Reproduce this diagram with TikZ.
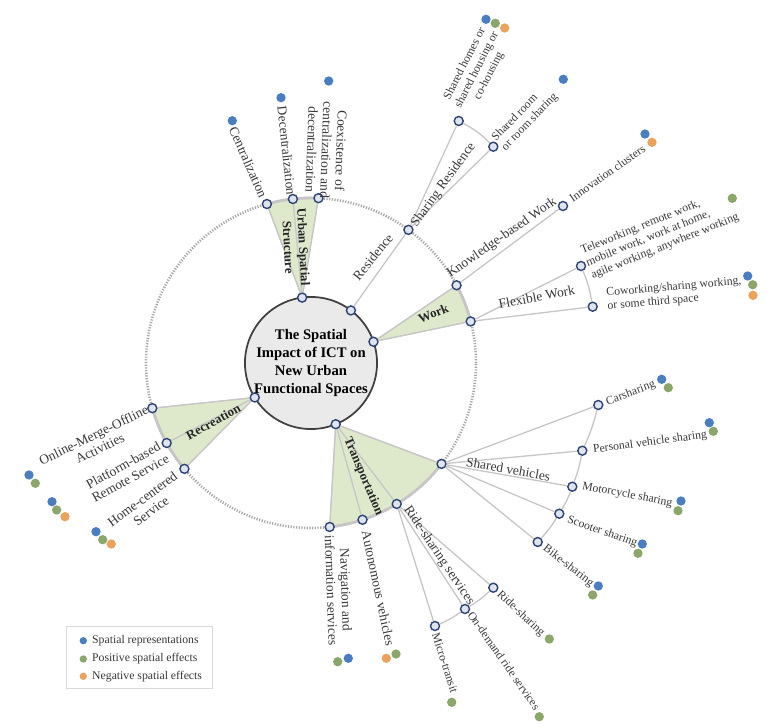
\documentclass[tikz,border=0pt]{standalone}
\usepackage{fontspec}
\setmainfont{Liberation Serif}

\definecolor{ringblue}{RGB}{45,68,115}
\definecolor{ringfill}{RGB}{222,229,240}
\definecolor{linkgray}{RGB}{198,198,198}
\definecolor{dotgray}{RGB}{165,165,165}
\definecolor{wedgegreen}{RGB}{222,233,204}
\definecolor{coregray}{RGB}{234,234,234}
\definecolor{repblue}{RGB}{74,126,193}
\definecolor{posgreen}{RGB}{139,166,106}
\definecolor{neggold}{RGB}{234,162,92}
\definecolor{labelgray}{RGB}{55,55,55}

\tikzset{
  ring/.style={circle, draw=ringblue, line width=1.2pt, fill=ringfill, inner sep=0pt, minimum size=0.27cm},
  link/.style={draw=linkgray, line width=1.1pt},
  rim/.style={draw=linkgray, line width=2.4pt},
  wedge/.style={fill=wedgegreen, draw=linkgray, line width=0.8pt},
  core/.style={circle, draw=black!75, line width=1.5pt, fill=coregray, minimum size=3.96cm, inner sep=0pt, align=center, font=\bfseries\fontsize{12.5}{15.4}\selectfont},
  topic/.style={align=center, text=black!85, inner sep=0pt, font=\bfseries\fontsize{11}{13}\selectfont},
  branch/.style={align=center, text=labelgray, inner sep=0pt, font=\fontsize{11.5}{12.5}\selectfont},
  leaf/.style={align=center, text=labelgray, inner sep=0pt, font=\fontsize{10}{11.5}\selectfont},
  effect/.style={circle, inner sep=0pt, minimum size=0.28cm},
}

\begin{document}
\begin{tikzpicture}[x=0.03cm, y=0.03cm]
    \useasboundingbox (-311,-363) rectangle (473,363);

    % the dotted ring of the second level
    \draw[dotgray, line width=2.2pt, dash pattern=on 1pt off 1.3pt] (0,0) circle (165);

    % the green fans of the main topics
    \filldraw[wedge] (97.7:66) -- (105.5:165) arc[start angle=105.5, end angle=87.4, radius=165] -- cycle;
    \filldraw[wedge] (18.8:66) -- (28.1:165) arc[start angle=28.1, end angle=14.6, radius=165] -- cycle;
    \filldraw[wedge] (-68:66) -- (-37.7:165) arc[start angle=-37.7, end angle=-83.5, radius=165] -- cycle;
    \filldraw[wedge] (211.5:66) -- (195.9:165) arc[start angle=195.9, end angle=219.9, radius=165] -- cycle;
    \draw[rim] (105.5:165) arc[start angle=105.5, end angle=87.4, radius=165];
    \draw[rim] (28.1:165) arc[start angle=28.1, end angle=14.6, radius=165];
    \draw[rim] (-37.7:165) arc[start angle=-37.7, end angle=-83.5, radius=165];
    \draw[rim] (195.9:165) arc[start angle=195.9, end angle=219.9, radius=165];

    % the centre
    \node[core] (core) at (0,0) {The Spatial\\Impact of ICT on\\New Urban\\Functional Spaces};

    % first level: the hubs on the centre
    \node[ring] (hubUrban) at (97.7:66) {};
    \node[ring] (hubRes) at (52.8:66) {};
    \node[ring] (hubWork) at (18.8:66) {};
    \node[ring] (hubRec) at (211.5:66) {};
    \node[ring] (hubTrans) at (-68:66) {};

    % second level: the points on the dotted ring
    \node[ring] (cent) at (105.5:165) {};
    \node[ring] (decent) at (96.3:165) {};
    \node[ring] (coex) at (87.4:165) {};
    \node[ring] (resid) at (53.8:165) {};
    \node[ring] (know) at (28.1:165) {};
    \node[ring] (flexw) at (14.6:165) {};
    \node[ring] (shveh) at (-37.7:165) {};
    \node[ring] (ridesrv) at (-58.7:165) {};
    \node[ring] (auton) at (-71.8:165) {};
    \node[ring] (navi) at (-83.5:165) {};
    \node[ring] (online) at (195.9:165) {};
    \node[ring] (platf) at (209:165) {};
    \node[ring] (homec) at (219.9:165) {};

    % third level
    \node[ring] (shhome) at (147.7,242) {};
    \node[ring] (shroom) at (182.3,216.3) {};
    \node[ring] (innov) at (252,157) {};
    \node[ring] (telew) at (270,97) {};
    \node[ring] (cowork) at (281.7,56.3) {};
    \node[ring] (carsh) at (287.3,-42) {};
    \node[ring] (persv) at (271.3,-87.7) {};
    \node[ring] (motor) at (261.3,-123.7) {};
    \node[ring] (scoot) at (248.3,-150.7) {};
    \node[ring] (bike) at (226.7,-179) {};
    \node[ring] (rides) at (182.3,-224.7) {};
    \node[ring] (ondem) at (154,-246) {};
    \node[ring] (micro) at (124,-263) {};

    % draw the links
    \draw[link] (hubUrban) -- (cent);
    \draw[link] (hubUrban) -- (decent);
    \draw[link] (hubUrban) -- (coex);
    \draw[link] (hubRes) -- (resid);
    \draw[link] (resid) -- (shhome);
    \draw[link] (resid) -- (shroom);
    \draw[link] (shhome) to[bend left=9] (shroom);
    \draw[link] (hubWork) -- (know);
    \draw[link] (hubWork) -- (flexw);
    \draw[link] (know) -- (innov);
    \draw[link] (flexw) -- (telew);
    \draw[link] (flexw) -- (cowork);
    \draw[link] (telew) to[bend left=6] (cowork);
    \draw[link] (hubTrans) -- (shveh);
    \draw[link] (hubTrans) -- (ridesrv);
    \draw[link] (hubTrans) -- (auton);
    \draw[link] (hubTrans) -- (navi);
    \draw[link] (shveh) -- (carsh);
    \draw[link] (shveh) -- (persv);
    \draw[link] (shveh) -- (motor);
    \draw[link] (shveh) -- (scoot);
    \draw[link] (shveh) -- (bike);
    \draw[link] (carsh) to[bend left=5] (persv);
    \draw[link] (persv) to[bend left=5] (motor);
    \draw[link] (motor) to[bend left=5] (scoot);
    \draw[link] (scoot) to[bend left=5] (bike);
    \draw[link] (ridesrv) -- (rides);
    \draw[link] (ridesrv) -- (ondem);
    \draw[link] (ridesrv) -- (micro);
    \draw[link] (rides) to[bend left=6] (ondem);
    \draw[link] (ondem) to[bend left=6] (micro);
    \draw[link] (hubRec) -- (online);
    \draw[link] (hubRec) -- (platf);
    \draw[link] (hubRec) -- (homec);

    % the texts of the topics
    \node[topic, rotate=-87] (lUrban) at (-15,116) {Urban Spatial\\Structure};
    \node[topic, rotate=22] (lWork) at (122.3,49.7) {Work};
    \node[topic, rotate=-67] (lTrans) at (52.3,-113.7) {Transportation};
    \node[topic, rotate=29] (lRec) at (-97.7,-58.7) {Recreation};

    % the texts of the second level
    \node[branch, rotate=-66.3] (lCent) at (-62.7,200.7) {Centralization};
    \node[branch, rotate=-84] (lDecent) at (-24.3,212.3) {Decentralization};
    \node[branch, rotate=-92] (lCoex) at (15.5,213) {Coexistence of\\centralization and\\decentralization};
    \node[branch, rotate=51] (lResid) at (62,106) {Residence};
    \node[branch, rotate=54] (lShRes) at (132.5,178) {Sharing Residence};
    \node[branch, rotate=35] (lKnow) at (191,125) {Knowledge-based Work};
    \node[branch, rotate=11] (lFlex) at (225.7,66) {Flexible Work};
    \node[branch, rotate=-10] (lShVeh) at (197.3,-106.3) {Shared vehicles};
    \node[branch, rotate=-56] (lRideSrv) at (128,-192.7) {Ride-sharing services};
    \node[branch, rotate=-78] (lAuton) at (67.3,-225.3) {Autonomous vehicles};
    \node[branch, rotate=-88] (lNavi) at (27.7,-227) {Navigation and\\information services};
    \node[branch, rotate=26] (lOnline) at (-214.3,-78.7) {Online-Merge-Offline\\Activities};
    \node[branch, rotate=29] (lPlatf) at (-184.3,-108.7) {Platform-based\\Remote Service};
    \node[branch, rotate=36.7] (lHomec) at (-164.3,-142) {Home-centered\\Service};

    % the texts of the third level
    \node[leaf, rotate=63] (lShHome) at (166,293) {Shared homes or\\shared housing or\\co-housing};
    \node[leaf, rotate=46, align=left] (lShRoom) at (214,245.5) {Shared room\\or room sharing};
    \node[leaf, rotate=35] (lInnov) at (296.3,189.7) {Innovation clusters};
    \node[leaf, rotate=22, align=left] (lTelew) at (349,129) {Teleworking, remote work,\\mobile work, work at home,\\agile working, anywhere working};
    \node[leaf, rotate=5, align=left] (lCowork) at (363.5,69) {Coworking/sharing working,\\or some third space};
    \node[leaf, rotate=20.8] (lCarsh) at (319.7,-30.3) {Carsharing};
    \node[leaf, rotate=7.5] (lPersv) at (339,-79.7) {Personal vehicle sharing};
    \node[leaf, rotate=-10.7] (lMotor) at (316.3,-132) {Motorcycle sharing};
    \node[leaf, rotate=-19] (lScoot) at (291.3,-168.7) {Scooter sharing};
    \node[leaf, rotate=-37.5] (lBike) at (257.3,-203) {Bike-sharing};
    \node[leaf, rotate=-43] (lRides) at (209.7,-251) {Ride-sharing};
    \node[leaf, rotate=-55] (lOndem) at (193,-297.7) {On-demand ride services};
    \node[leaf, rotate=-72] (lMicro) at (134,-299.7) {Micro-transit};

    % the spatial effects at the end of the texts
    \node[effect, fill=repblue] (centB) at (-78.7,242.3) {};
    \node[effect, fill=repblue] (decentB) at (-30,265.3) {};
    \node[effect, fill=repblue] (coexB) at (17.7,282) {};
    \node[effect, fill=repblue] (shhomeB) at (175,343.7) {};
    \node[effect, fill=posgreen] (shhomeG) at (184.3,339.7) {};
    \node[effect, fill=neggold] (shhomeO) at (193.7,335) {};
    \node[effect, fill=repblue] (shroomB) at (252.3,283.7) {};
    \node[effect, fill=repblue] (innovB) at (334,229) {};
    \node[effect, fill=neggold] (innovO) at (341,220.7) {};
    \node[effect, fill=posgreen] (telewG) at (421.3,164.7) {};
    \node[effect, fill=repblue] (coworkB) at (436.7,87) {};
    \node[effect, fill=posgreen] (coworkG) at (441.7,78.3) {};
    \node[effect, fill=neggold] (coworkO) at (442,67.7) {};
    \node[effect, fill=repblue] (carshB) at (350.7,-16.3) {};
    \node[effect, fill=posgreen] (carshG) at (357.3,-24.7) {};
    \node[effect, fill=repblue] (persvB) at (398.3,-59.7) {};
    \node[effect, fill=posgreen] (persvG) at (402.3,-68.3) {};
    \node[effect, fill=repblue] (motorB) at (370,-138) {};
    \node[effect, fill=posgreen] (motorG) at (367,-147.7) {};
    \node[effect, fill=repblue] (scootB) at (331.3,-181) {};
    \node[effect, fill=posgreen] (scootG) at (327,-190.3) {};
    \node[effect, fill=repblue] (bikeB) at (287.3,-223) {};
    \node[effect, fill=posgreen] (bikeG) at (281.7,-232) {};
    \node[effect, fill=posgreen] (ridesG) at (238.3,-276) {};
    \node[effect, fill=posgreen] (ondemG) at (228.3,-353.7) {};
    \node[effect, fill=posgreen] (microG) at (140.7,-339.3) {};
    \node[effect, fill=neggold] (autonO) at (75.3,-295.3) {};
    \node[effect, fill=posgreen] (autonG) at (85,-291) {};
    \node[effect, fill=posgreen] (naviG) at (26.7,-298.7) {};
    \node[effect, fill=repblue] (naviB) at (37.3,-295.3) {};
    \node[effect, fill=repblue] (onlineB) at (-282,-112) {};
    \node[effect, fill=posgreen] (onlineG) at (-275.7,-120.3) {};
    \node[effect, fill=repblue] (platfB) at (-259,-138.7) {};
    \node[effect, fill=posgreen] (platfG) at (-254.3,-147) {};
    \node[effect, fill=neggold] (platfO) at (-246,-153.7) {};
    \node[effect, fill=repblue] (homecB) at (-215,-168.7) {};
    \node[effect, fill=posgreen] (homecG) at (-208.3,-176.7) {};
    \node[effect, fill=neggold] (homecO) at (-199.7,-181) {};

    % the legend
    \draw[black!15, fill=white] (-244.3,-263.7) rectangle (-98.7,-325.3);
    \node[effect, fill=repblue, minimum size=0.22cm] (legRep) at (-227.7,-277.7) {};
    \node[effect, fill=posgreen, minimum size=0.22cm] (legPos) at (-227.7,-296) {};
    \node[effect, fill=neggold, minimum size=0.22cm] (legNeg) at (-227.7,-313.3) {};
    \node[leaf, anchor=west, font=\fontsize{10}{10}\selectfont] (lRep) at (-219,-277.7) {Spatial representations};
    \node[leaf, anchor=west, font=\fontsize{10}{10}\selectfont] (lPos) at (-219,-296) {Positive spatial effects};
    \node[leaf, anchor=west, font=\fontsize{10}{10}\selectfont] (lNeg) at (-219,-313.3) {Negative spatial effects};

\end{tikzpicture}
\end{document}
